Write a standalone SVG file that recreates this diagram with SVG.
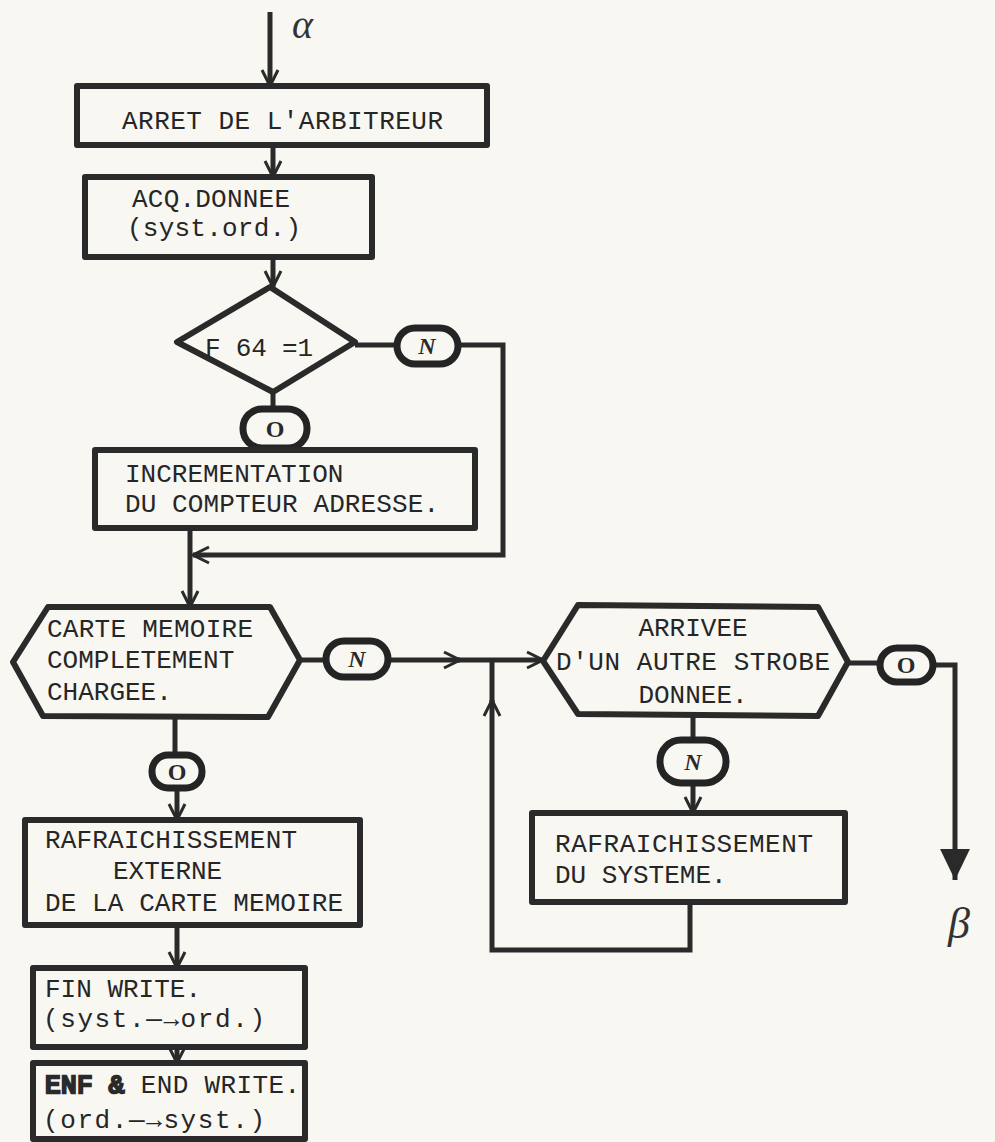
<svg xmlns="http://www.w3.org/2000/svg" width="995" height="1142" viewBox="0 0 995 1142">
  <style>
    .shape { fill: none; stroke: #2a2a2a; stroke-width: 6; stroke-linejoin: round; }
    .oval { fill: #f8f7f2; stroke: #242424; stroke-width: 7; }
    .wire { fill: none; stroke: #2a2a2a; stroke-width: 5; stroke-linejoin: miter; }
    .txt { font-family: "Liberation Mono", "DejaVu Sans Mono", monospace; font-size: 26px; fill: #262626; }
    .lbl { font-family: "Liberation Serif", "DejaVu Serif", serif; font-size: 24px; font-style: italic; font-weight: bold; fill: #2a2a2a; text-anchor: middle; }
    .lbl-o { font-style: normal; }
    .greek { font-family: "Liberation Serif", "DejaVu Serif", serif; font-style: italic; fill: #333; }
  </style>
  <defs>
    <marker id="vee" viewBox="0 0 20 20" refX="19" refY="10" markerWidth="20" markerHeight="20" markerUnits="userSpaceOnUse" orient="auto">
      <path d="M3,2 L19,10 L3,18" fill="none" stroke="#2a2a2a" stroke-width="3"/>
    </marker>
    <marker id="solid" viewBox="0 0 30 30" refX="29" refY="15" markerWidth="32" markerHeight="32" markerUnits="userSpaceOnUse" orient="auto">
      <path d="M0,1 L29,15 L0,29 Z" fill="#2a2a2a"/>
    </marker>
  </defs>

  <rect width="995" height="1142" fill="#f8f7f2"/>

  <!-- connectors -->
  <g id="connectors">
    <path class="wire" d="M270,12 V86" marker-end="url(#vee)"/>
    <path class="wire" d="M273,145 V177" marker-end="url(#vee)"/>
    <path class="wire" d="M273,257 V287" marker-end="url(#vee)"/>
    <path class="wire" d="M273,392 V410"/>
    <path class="wire" d="M355,345 H400"/>
    <path class="wire" d="M456,345 H503 V555 H193" marker-end="url(#vee)"/>
    <path class="wire" d="M190,528 V607" marker-end="url(#vee)"/>
    <path class="wire" d="M300,660 H328"/>
    <path class="wire" d="M386,660 H460" marker-end="url(#vee)"/>
    <path class="wire" d="M458,660 H543" marker-end="url(#vee)"/>
    <path class="wire" d="M690,902 V950 H492 V700" marker-end="url(#vee)"/>
    <path class="wire" d="M492,702 V660"/>
    <path class="wire" d="M693,716 V742"/>
    <path class="wire" d="M693,782 V813" marker-end="url(#vee)"/>
    <path class="wire" d="M848,663 H882"/>
    <path class="wire" d="M931,665 H955 V880" marker-end="url(#solid)"/>
    <path class="wire" d="M175,717 V757"/>
    <path class="wire" d="M177,786 V820" marker-end="url(#vee)"/>
    <path class="wire" d="M177,925 V968" marker-end="url(#vee)"/>
    <path class="wire" d="M177,1047 V1063" marker-end="url(#vee)"/>
  </g>

  <!-- entry / exit marks -->
  <g id="alpha"><text class="greek" x="292" y="38" font-size="40">α</text></g>
  <g id="beta"><text class="greek" x="948" y="938" font-size="44">β</text></g>

  <g id="arret">
    <rect class="shape" x="77" y="86" width="410" height="59"/>
    <text class="txt" x="122" y="129" textLength="321">ARRET DE L'ARBITREUR</text>
  </g>

  <g id="acq">
    <rect class="shape" x="85" y="177" width="287" height="80"/>
    <text class="txt" x="132" y="207" font-size="24" textLength="158">ACQ.DONNEE</text>
    <text class="txt" x="127" y="236" font-size="24" textLength="174">(syst.ord.)</text>
  </g>

  <g id="test-f64">
    <polygon class="shape" points="270,287 355,342 273,392 177,342"/>
    <text class="txt" x="205" y="356" textLength="108">F 64 =1</text>
  </g>

  <g id="f64-n">
    <rect class="oval" x="397" y="328" width="61" height="36" rx="18"/>
    <text class="lbl" x="427" y="354">N</text>
  </g>

  <g id="f64-o">
    <rect class="oval" x="243" y="409" width="64" height="39" rx="19"/>
    <text class="lbl lbl-o" x="275" y="437">O</text>
  </g>

  <g id="increment">
    <rect class="shape" x="95" y="450" width="380" height="78"/>
    <text class="txt" x="125" y="482">INCREMENTATION</text>
    <text class="txt" x="125" y="512" textLength="314">DU COMPTEUR ADRESSE.</text>
  </g>

  <g id="carte-chargee">
    <polygon class="shape" points="13,662 48,607 270,607 300,660 268,717 43,716"/>
    <text class="txt" x="47" y="637" textLength="206">CARTE MEMOIRE</text>
    <text class="txt" x="47" y="668">COMPLETEMENT</text>
    <text class="txt" x="47" y="700">CHARGEE.</text>
  </g>

  <g id="carte-n">
    <rect class="oval" x="326" y="641" width="62" height="36" rx="18"/>
    <text class="lbl" x="357" y="667">N</text>
  </g>

  <g id="carte-o">
    <rect class="oval" x="152" y="755" width="50" height="33" rx="16"/>
    <text class="lbl lbl-o" x="177" y="780">O</text>
  </g>

  <g id="strobe">
    <polygon class="shape" points="543,661 578,605 818,607 848,662 818,716 578,714"/>
    <text class="txt" x="693" y="636" text-anchor="middle">ARRIVEE</text>
    <text class="txt" x="693" y="670" text-anchor="middle" textLength="274">D'UN AUTRE STROBE</text>
    <text class="txt" x="693" y="703" text-anchor="middle">DONNEE.</text>
  </g>

  <g id="strobe-o">
    <rect class="oval" x="880" y="648" width="53" height="34" rx="17"/>
    <text class="lbl lbl-o" x="906" y="673">O</text>
  </g>

  <g id="strobe-n">
    <rect class="oval" x="660" y="740" width="66" height="43" rx="21"/>
    <text class="lbl" x="693" y="770">N</text>
  </g>

  <g id="refresh-system">
    <rect class="shape" x="532" y="813" width="313" height="89"/>
    <text class="txt" x="555" y="852" textLength="258">RAFRAICHISSEMENT</text>
    <text class="txt" x="555" y="883">DU SYSTEME.</text>
  </g>

  <g id="refresh-external">
    <rect class="shape" x="25" y="820" width="335" height="105"/>
    <text class="txt" x="45" y="848" textLength="252">RAFRAICHISSEMENT</text>
    <text class="txt" x="113" y="879">EXTERNE</text>
    <text class="txt" x="45" y="911" textLength="298">DE LA CARTE MEMOIRE</text>
  </g>

  <g id="fin-write">
    <rect class="shape" x="33" y="968" width="272" height="79"/>
    <text class="txt" x="45" y="997">FIN WRITE.</text>
    <text class="txt" x="43" y="1027" textLength="222">(syst.—→ord.)</text>
  </g>

  <g id="end-write">
    <rect class="shape" x="33" y="1063" width="272" height="76"/>
    <text class="txt" x="45" y="1093" textLength="255"><tspan stroke="#2a2a2a" stroke-width="2.5">ENF &amp;</tspan> END WRITE.</text>
    <text class="txt" x="43" y="1128" textLength="222">(ord.—→syst.)</text>
  </g>
</svg>
